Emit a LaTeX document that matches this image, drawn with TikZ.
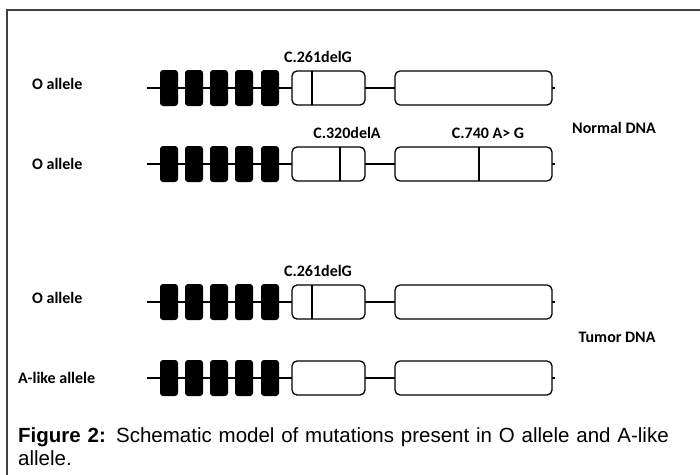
\documentclass[tikz,border=0pt]{standalone}
\usepackage{fontspec}
\setmainfont{Liberation Sans}
\newfontfamily\labelfont{Carlito}
\usetikzlibrary{positioning}

\tikzset{
    exon/.style={fill=black, rounded corners=3pt},
    utr/.style={draw=black, fill=white, line width=1.3pt, rounded corners=5pt},
    lbl/.style={font=\labelfont\bfseries\fontsize{16}{19}\selectfont, inner sep=0pt},
    mutline/.style={line width=1.3pt},
}

\begin{document}
\begin{tikzpicture}[x=1pt,y=-1pt]
    \useasboundingbox (0,0) rectangle (700,474);
    % Draw the frame
    \draw[line width=1.2pt, black!75] (7,490) -- (7,10) -- (720,10);
    % Draw the alleles
    \foreach \y in {88,164,302,378} {
        \draw[line width=1.3pt] (147,\y) -- (555,\y);
        \foreach \x in {160,185,210,235,261}
            \fill[exon] (\x,\y-18) rectangle ++(18,36);
        \draw[utr] (292,\y-17) rectangle (365,\y+17);
        \draw[utr] (395,\y-17) rectangle (552,\y+17);
    }
    % Add mutation marks
    \draw[mutline] (312,71) -- (312,105);
    \draw[mutline] (340,147) -- (340,181);
    \draw[mutline] (479,147) -- (479,181);
    \draw[mutline] (312,285) -- (312,319);
    % Labels
    \node[lbl, anchor=west] (oa1) at (32,84) {O allele};
    \node[lbl, anchor=west] (oa2) at (32,164) {O allele};
    \node[lbl, anchor=west] (oa3) at (32,298) {O allele};
    \node[lbl, anchor=west] (al) at (18,378) {A-like allele};
    \node[lbl] (m1) at (318,57) {C.261delG};
    \node[lbl] (m2) at (347,133) {C.320delA};
    \node[lbl] (m3) at (488,133) {C.740 A> G};
    \node[lbl] (m4) at (318,271) {C.261delG};
    \node[lbl] (nd) at (614,128) {Normal DNA};
    \node[lbl] (td) at (617,337) {Tumor DNA};
    % Caption
    \node[anchor=north west, inner sep=0pt, text width=675pt, align=left,
          font=\fontsize{20.5}{23}\selectfont] (cap) at (18,427)
        {\textbf{Figure 2:} Schematic model of mutations present in O allele and A-like allele.};
\end{tikzpicture}
\end{document}
